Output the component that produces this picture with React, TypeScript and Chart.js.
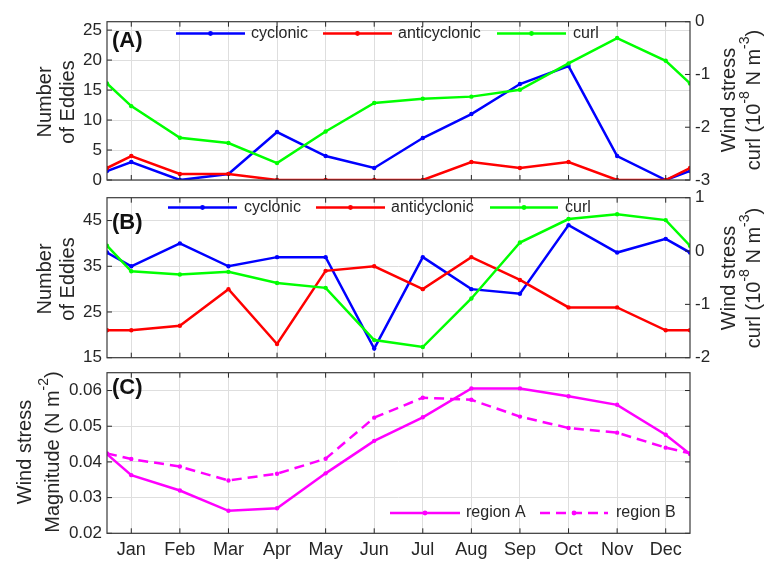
import React, { useEffect, useRef } from 'react';
import { Chart, registerables } from 'chart.js';
Chart.register(...registerables);

const FONT = '"Liberation Sans", Arial, Helvetica, sans-serif';
const TXT = '#262626';
const GRID = '#dedede';

const months = ['Jan', 'Feb', 'Mar', 'Apr', 'May', 'Jun', 'Jul', 'Aug', 'Sep', 'Oct', 'Nov', 'Dec'];
// month index positions, with the Dec/Jan wrap-around half months at both edges
const xPos = [-0.5, 0, 1, 2, 3, 4, 5, 6, 7, 8, 9, 10, 11, 11.5];

// Panel A
const aCyclonic = [1.5, 3, 0, 1, 8, 4, 2, 7, 11, 16, 19, 4, 0, 1.5];
const aAnticyclonic = [2, 4, 1, 1, 0, 0, 0, 0, 3, 2, 3, 0, 0, 2];
const aCurl = [-1.17, -1.6, -2.2, -2.3, -2.68, -2.08, -1.54, -1.46, -1.42, -1.29, -0.79, -0.31, -0.74, -1.17];

// Panel B
const bCyclonic = [38, 35, 40, 35, 37, 37, 17, 37, 30, 29, 44, 38, 41, 38];
const bAnticyclonic = [21, 21, 22, 30, 18, 34, 35, 30, 37, 32, 26, 26, 21, 21];
const bCurl = [0.1, -0.38, -0.44, -0.39, -0.6, -0.69, -1.67, -1.8, -0.89, 0.16, 0.6, 0.69, 0.58, 0.1];

// Panel C
const regionA = [0.0422, 0.0363, 0.032, 0.0263, 0.027, 0.0368, 0.0459, 0.0525, 0.0606, 0.0606, 0.0584, 0.056, 0.0476, 0.0422];
const regionB = [0.0424, 0.0408, 0.0387, 0.0348, 0.0367, 0.0409, 0.0524, 0.058, 0.0574, 0.0527, 0.0495, 0.0482, 0.044, 0.0424];

// Tick values
const aLeftTicks = [0, 5, 10, 15, 20, 25];
const aRightTicks = [-3, -2, -1, 0];
const bLeftTicks = [15, 25, 35, 45];
const bRightTicks = [-2, -1, 0, 1];
const cTicks = [0.02, 0.03, 0.04, 0.05, 0.06];

const BLUE = '#0000ff';
const RED = '#ff0000';
const GREEN = '#00ff00';
const MAGENTA = '#ff00ff';

type Part = [string, boolean];

function pts(vals: number[]) {
  return xPos.map((x, i) => ({ x, y: vals[i] }));
}

function ds(label: string, vals: number[], color: string, axis: string, order: number, dash?: number[]) {
  return {
    label,
    data: pts(vals),
    borderColor: color,
    backgroundColor: color,
    pointBackgroundColor: color,
    pointBorderWidth: 0,
    pointRadius: 2.2,
    borderWidth: 2.5,
    borderDash: dash || [],
    tension: 0,
    yAxisID: axis,
    order,
  };
}

function richWidth(ctx: CanvasRenderingContext2D, parts: Part[], size: number) {
  let w = 0;
  for (const [t, sup] of parts) {
    ctx.font = `${sup ? size * 0.7 : size}px ${FONT}`;
    w += ctx.measureText(t).width;
  }
  return w;
}

function drawRotated(ctx: CanvasRenderingContext2D, parts: Part[], cx: number, cy: number, size: number) {
  ctx.save();
  ctx.translate(cx, cy);
  ctx.rotate(-Math.PI / 2);
  ctx.textBaseline = 'middle';
  ctx.textAlign = 'left';
  ctx.fillStyle = TXT;
  let x = -richWidth(ctx, parts, size) / 2;
  for (const [t, sup] of parts) {
    const s = sup ? size * 0.7 : size;
    ctx.font = `${s}px ${FONT}`;
    ctx.fillText(t, x, sup ? -size * 0.42 : 0);
    x += ctx.measureText(t).width;
  }
  ctx.restore();
}

type LegendItem = { color: string; text: string; x1: number; x2: number; tx: number; dash?: number[] };

type DecorOpts = {
  leftTicks: number[];
  rightTicks: number[] | null;
  panel: string;
  panelY: number;
  legend: LegendItem[];
  legendY: number;
  leftTitle: { lines: Part[][]; xs: number[]; y: number };
  rightTitle?: { lines: Part[][]; xs: number[]; y: number };
};

function decor(o: DecorOpts) {
  return {
    id: 'decor',
    afterDraw(chart: any) {
      const ctx: CanvasRenderingContext2D = chart.ctx;
      const { left, right, top, bottom } = chart.chartArea;
      const xs = chart.scales.x;
      const yl = chart.scales.yL;
      const yr = chart.scales.yR;
      ctx.save();
      // inner tick marks
      ctx.strokeStyle = TXT;
      ctx.lineWidth = 1;
      ctx.beginPath();
      const TL = 5;
      months.forEach((_, i) => {
        const px = xs.getPixelForValue(i);
        ctx.moveTo(px, bottom);
        ctx.lineTo(px, bottom - TL);
        ctx.moveTo(px, top);
        ctx.lineTo(px, top + TL);
      });
      o.leftTicks.forEach((v) => {
        const py = yl.getPixelForValue(v);
        ctx.moveTo(left, py);
        ctx.lineTo(left + TL, py);
        if (!o.rightTicks) {
          ctx.moveTo(right, py);
          ctx.lineTo(right - TL, py);
        }
      });
      if (o.rightTicks && yr) {
        o.rightTicks.forEach((v) => {
          const py = yr.getPixelForValue(v);
          ctx.moveTo(right, py);
          ctx.lineTo(right - TL, py);
        });
      }
      ctx.stroke();
      // box
      ctx.strokeStyle = '#3a3a3a';
      ctx.lineWidth = 1.2;
      ctx.strokeRect(left, top, right - left, bottom - top);
      // legend
      for (const it of o.legend) {
        ctx.strokeStyle = it.color;
        ctx.lineWidth = 2.5;
        ctx.setLineDash(it.dash || []);
        ctx.beginPath();
        ctx.moveTo(it.x1, o.legendY);
        ctx.lineTo(it.x2, o.legendY);
        ctx.stroke();
        ctx.setLineDash([]);
        ctx.fillStyle = it.color;
        ctx.beginPath();
        ctx.arc((it.x1 + it.x2) / 2, o.legendY, 2.4, 0, Math.PI * 2);
        ctx.fill();
        ctx.fillStyle = TXT;
        ctx.font = `16px ${FONT}`;
        ctx.textAlign = 'left';
        ctx.textBaseline = 'middle';
        ctx.fillText(it.text, it.tx, o.legendY);
      }
      // panel label
      ctx.fillStyle = '#111';
      ctx.font = `bold 22px ${FONT}`;
      ctx.textAlign = 'left';
      ctx.textBaseline = 'middle';
      ctx.fillText(o.panel, 112, o.panelY);
      // titles
      o.leftTitle.lines.forEach((ln, i) => drawRotated(ctx, ln, o.leftTitle.xs[i], o.leftTitle.y, 20));
      if (o.rightTitle) {
        const rt = o.rightTitle;
        rt.lines.forEach((ln, i) => drawRotated(ctx, ln, rt.xs[i], rt.y, 20));
      }
      ctx.restore();
    },
  };
}

function xAxis(showLabels: boolean) {
  return {
    type: 'linear',
    min: -0.5,
    max: 11.5,
    afterBuildTicks: (s: any) => {
      s.ticks = months.map((_, i) => ({ value: i }));
    },
    afterFit: (s: any) => {
      s.height = showLabels ? 27.7 : 0;
    },
    ticks: {
      display: showLabels,
      autoSkip: false,
      maxRotation: 0,
      padding: 6,
      font: { family: FONT, size: 18 },
      color: TXT,
      callback: (v: number) => months[v] ?? '',
    },
    grid: { color: GRID, lineWidth: 1, drawTicks: false },
    border: { display: false },
  };
}

function yAxis(pos: 'left' | 'right', min: number, max: number, ticks: number[], grid: boolean, fmt: (v: number) => string) {
  return {
    type: 'linear',
    position: pos,
    min,
    max,
    afterBuildTicks: (s: any) => {
      s.ticks = ticks.map((v) => ({ value: v }));
    },
    afterFit: (s: any) => {
      s.width = pos === 'left' ? 107 : 79;
    },
    ticks: {
      font: { family: FONT, size: 17 },
      color: TXT,
      padding: 5,
      autoSkip: false,
      callback: (v: number) => fmt(v),
    },
    grid: { display: grid, color: GRID, lineWidth: 1, drawTicks: false },
    border: { display: false },
  };
}

const intFmt = (v: number) => String(Math.round(v));

const eddyTitle: Part[][] = [[['Number', false]], [['of Eddies', false]]];
const curlTitle: Part[][] = [
  [['Wind stress', false]],
  [['curl (10', false], ['-8', true], [' N m', false], ['-3', true], [')', false]],
];

function baseOptions(padTop: number, padBottom: number, padRight: number) {
  return {
    responsive: false,
    maintainAspectRatio: false,
    animation: false as const,
    layout: { padding: { top: padTop, bottom: padBottom, left: 0, right: padRight }, autoPadding: false },
    plugins: { legend: { display: false }, tooltip: { enabled: false } },
    events: [] as any[],
  };
}

function cfgA(): any {
  return {
    type: 'line',
    data: {
      datasets: [
        ds('cyclonic', aCyclonic, BLUE, 'yL', 2),
        ds('anticyclonic', aAnticyclonic, RED, 'yL', 1),
        ds('curl', aCurl, GREEN, 'yR', 0),
      ],
    },
    options: {
      ...baseOptions(21.7, 381, 0),
      scales: {
        x: xAxis(false),
        yL: yAxis('left', 0, 26.4, aLeftTicks, true, intFmt),
        yR: yAxis('right', -3, 0, aRightTicks, false, intFmt),
      },
    },
    plugins: [
      decor({
        leftTicks: aLeftTicks,
        rightTicks: aRightTicks,
        panel: '(A)',
        panelY: 41,
        legendY: 33.5,
        legend: [
          { color: BLUE, text: 'cyclonic', x1: 176, x2: 245, tx: 251 },
          { color: RED, text: 'anticyclonic', x1: 323, x2: 392, tx: 398 },
          { color: GREEN, text: 'curl', x1: 497, x2: 566, tx: 573 },
        ],
        leftTitle: { lines: eddyTitle, xs: [45, 68], y: 102 },
        rightTitle: { lines: curlTitle, xs: [729, 754], y: 100 },
      }),
    ],
  };
}

function cfgB(): any {
  return {
    type: 'line',
    data: {
      datasets: [
        ds('cyclonic', bCyclonic, BLUE, 'yL', 2),
        ds('anticyclonic', bAnticyclonic, RED, 'yL', 1),
        ds('curl', bCurl, GREEN, 'yR', 0),
      ],
    },
    options: {
      ...baseOptions(197.7, 203.3, 0),
      scales: {
        x: xAxis(false),
        yL: yAxis('left', 15, 50, bLeftTicks, true, intFmt),
        yR: yAxis('right', -2, 1, bRightTicks, false, intFmt),
      },
    },
    plugins: [
      decor({
        leftTicks: bLeftTicks,
        rightTicks: bRightTicks,
        panel: '(B)',
        panelY: 223,
        legendY: 207.5,
        legend: [
          { color: BLUE, text: 'cyclonic', x1: 168, x2: 237, tx: 244 },
          { color: RED, text: 'anticyclonic', x1: 316, x2: 385, tx: 391 },
          { color: GREEN, text: 'curl', x1: 490, x2: 558, tx: 565 },
        ],
        leftTitle: { lines: eddyTitle, xs: [45, 68], y: 279 },
        rightTitle: { lines: curlTitle, xs: [729, 754], y: 278 },
      }),
    ],
  };
}

function cfgC(): any {
  return {
    type: 'line',
    data: {
      datasets: [
        ds('region A', regionA, MAGENTA, 'yL', 1),
        ds('region B', regionB, MAGENTA, 'yL', 0, [10, 6]),
      ],
    },
    options: {
      ...baseOptions(372.7, 0, 79),
      scales: {
        x: xAxis(true),
        yL: yAxis('left', 0.02, 0.065, cTicks, true, (v) => v.toFixed(2)),
      },
    },
    plugins: [
      decor({
        leftTicks: cTicks,
        rightTicks: null,
        panel: '(C)',
        panelY: 388,
        legendY: 513,
        legend: [
          { color: MAGENTA, text: 'region A', x1: 390, x2: 460, tx: 466 },
          { color: MAGENTA, text: 'region B', x1: 540, x2: 608, tx: 616, dash: [10, 6] },
        ],
        leftTitle: {
          lines: [
            [['Wind stress', false]],
            [['Magnitude (N m', false], ['-2', true], [')', false]],
          ],
          xs: [25, 53],
          y: 452,
        },
      }),
    ],
  };
}

export default function App() {
  const refA = useRef<HTMLCanvasElement>(null);
  const refB = useRef<HTMLCanvasElement>(null);
  const refC = useRef<HTMLCanvasElement>(null);

  useEffect(() => {
    const charts = [
      new Chart(refA.current as HTMLCanvasElement, cfgA()),
      new Chart(refB.current as HTMLCanvasElement, cfgB()),
      new Chart(refC.current as HTMLCanvasElement, cfgC()),
    ];
    return () => charts.forEach((c) => c.destroy());
  }, []);

  const cs: React.CSSProperties = { position: 'absolute', left: 0, top: 0, width: 769, height: 561 };
  return (
    <div style={{ position: 'absolute', left: 0, top: 0, width: 769, height: 561, background: '#fff' }}>
      <canvas ref={refA} width={769} height={561} style={cs} />
      <canvas ref={refB} width={769} height={561} style={cs} />
      <canvas ref={refC} width={769} height={561} style={cs} />
    </div>
  );
}
